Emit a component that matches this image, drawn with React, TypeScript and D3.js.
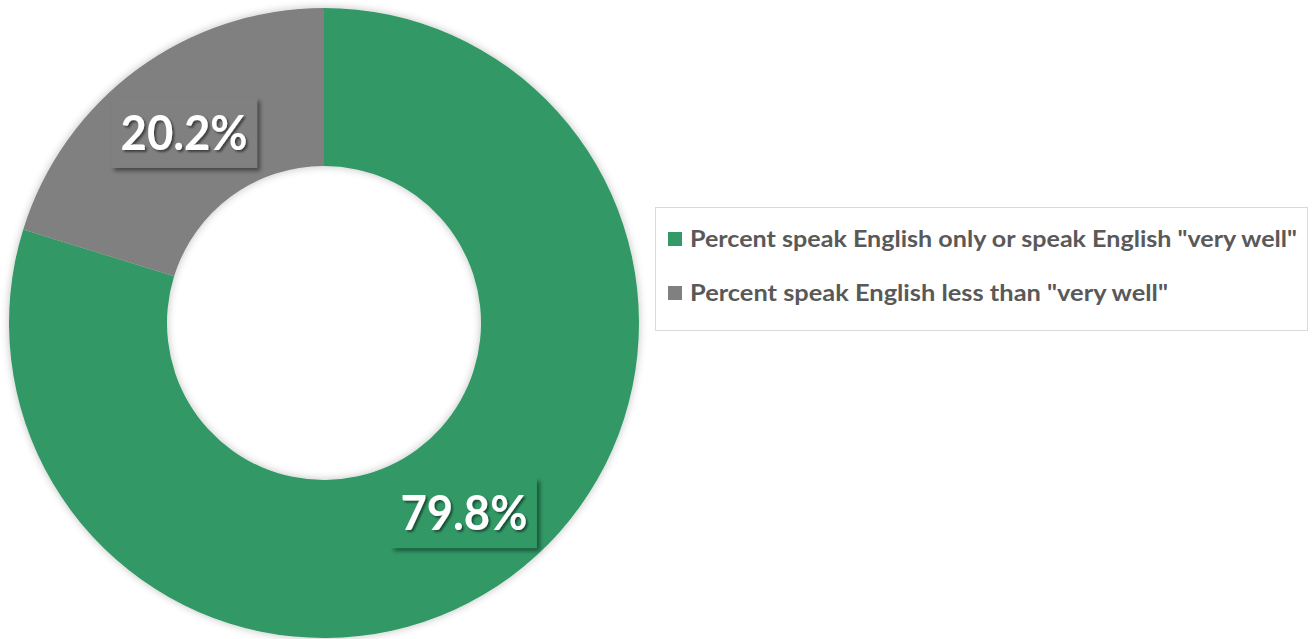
import React from "react";
import * as d3 from "d3";

const categories = [
  'Percent speak English only or speak English "very well"',
  'Percent speak English less than "very well"',
];
const values = [79.8, 20.2];
const colors = ["#339966", "#808080"];

const W = 1316;
const H = 639;

export default function App() {
  const cx = 324;
  const cy = 323;
  const outerR = 315;
  const innerR = 157;

  const pie = d3.pie<number>().sort(null).value((d) => d);
  const arcs = pie(values);
  const arc = d3.arc<d3.PieArcDatum<number>>().innerRadius(innerR).outerRadius(outerR);

  const boxW = 146;
  const boxH = 70;

  return (
    <svg
      width={W}
      height={H}
      style={{ position: "absolute", left: 0, top: 0, background: "#ffffff" }}
    >
      <defs>
        <filter id="dshadow" x="-10%" y="-10%" width="120%" height="120%">
          <feGaussianBlur in="SourceAlpha" stdDeviation="4" />
          <feOffset dx="0" dy="0" result="b" />
          <feComponentTransfer>
            <feFuncA type="linear" slope="0.25" />
          </feComponentTransfer>
          <feMerge>
            <feMergeNode />
            <feMergeNode in="SourceGraphic" />
          </feMerge>
        </filter>
        <filter id="lshadow" x="-20%" y="-20%" width="140%" height="140%">
          <feGaussianBlur in="SourceAlpha" stdDeviation="2" />
          <feOffset dx="3" dy="3" result="b" />
          <feComponentTransfer>
            <feFuncA type="linear" slope="0.45" />
          </feComponentTransfer>
          <feMerge>
            <feMergeNode />
            <feMergeNode in="SourceGraphic" />
          </feMerge>
        </filter>
        <filter id="tshadow" x="-20%" y="-20%" width="140%" height="140%">
          <feGaussianBlur in="SourceAlpha" stdDeviation="1" />
          <feOffset dx="1.5" dy="1.5" result="b" />
          <feComponentTransfer>
            <feFuncA type="linear" slope="0.5" />
          </feComponentTransfer>
          <feMerge>
            <feMergeNode />
            <feMergeNode in="SourceGraphic" />
          </feMerge>
        </filter>
      </defs>

      <g transform={`translate(${cx},${cy})`}>
        <g filter="url(#dshadow)">
          {arcs.map((a, i) => (
            <path key={i} d={arc(a) || ""} fill={colors[i]} />
          ))}
        </g>
        {arcs.map((a, i) => {
          const [x, y] = arc.centroid(a);
          return (
            <g key={"l" + i} transform={`translate(${x},${y})`}>
              <rect
                x={-boxW / 2}
                y={-boxH / 2}
                width={boxW}
                height={boxH}
                fill={colors[i]}
                filter="url(#lshadow)"
              />
              <text
                x={0}
                y={17}
                textAnchor="middle"
                fill="#ffffff"
                fontFamily="Lato, 'Open Sans', sans-serif"
                fontWeight="bold"
                fontSize={47}
                textLength={127}
                lengthAdjust="spacingAndGlyphs"
                filter="url(#tshadow)"
              >
                {`${values[i].toFixed(1)}%`}
              </text>
            </g>
          );
        })}
      </g>

      <g>
        <rect
          x={655.5}
          y={207.5}
          width={652}
          height={123}
          fill="#ffffff"
          stroke="#d9d9d9"
          strokeWidth={1}
        />
        {categories.map((c, i) => (
          <g key={c} transform={`translate(668,${232 + i * 54})`}>
            <rect x={0} y={0} width={14} height={14} fill={colors[i]} />
            <text
              x={22}
              y={15}
              fill="#595959"
              fontFamily="Lato, 'Open Sans', sans-serif"
              fontWeight="bold"
              fontSize={23}
              textLength={i === 0 ? 607 : 478}
              lengthAdjust="spacingAndGlyphs"
            >
              {c}
            </text>
          </g>
        ))}
      </g>
    </svg>
  );
}
